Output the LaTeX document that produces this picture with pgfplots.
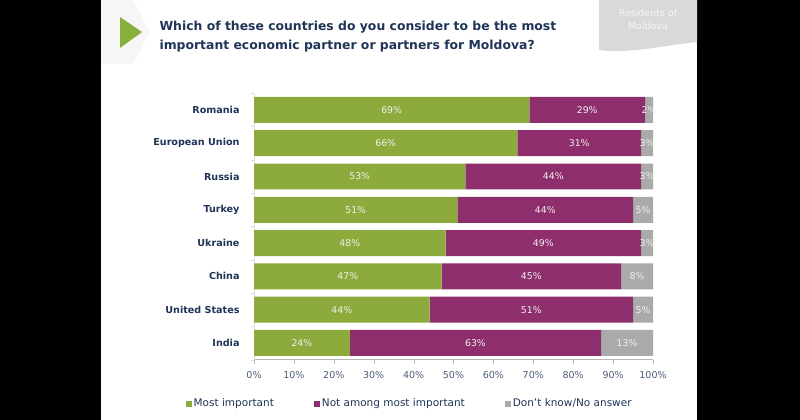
\documentclass[border=0pt]{standalone}
\usepackage{pgfplots}
\pgfplotsset{compat=1.18}
\usepackage{pgfplotstable}
\usepackage{fontspec}
\setmainfont{DejaVu Sans}
\definecolor{cgreen}{RGB}{141,170,60}
\definecolor{cpurple}{RGB}{142,46,108}
\definecolor{cgray}{RGB}{170,170,170}
\definecolor{navy}{RGB}{31,52,87}
\definecolor{tri}{RGB}{135,176,58}
\pgfplotstableread{
pos most notamong dk
7 69 29 2
6 66 31 3
5 53 44 3
4 51 44 5
3 48 49 3
2 47 45 8
1 44 51 5
0 24 63 13
}\data
\pgfplotstablecreatecol[create col/expr={\thisrow{most}/2}]{cmost}\data
\pgfplotstablecreatecol[create col/expr={\thisrow{most}+\thisrow{notamong}/2}]{cnot}\data
\pgfplotstablecreatecol[create col/expr={\thisrow{most}+\thisrow{notamong}+\thisrow{dk}/2}]{cdk}\data
\pgfplotsset{common/.style={
  at={(254bp,60.4bp)}, anchor=south west, scale only axis,
  width=399bp, height=266.3bp,
  xmin=0, xmax=100, ymin=-0.5, ymax=7.5, clip=false,
  /pgf/number format/assume math mode=true}}
\begin{document}
\begin{tikzpicture}
\begin{scope}[x=1bp,y=1bp]
\fill[black] (0,0) rectangle (800,420);
\fill[white] (101,0) rectangle (697,420);
\fill[gray!7] (101,420) -- (133,420) -- (150,388) -- (133,356) -- (101,356) -- cycle;
\fill[tri] (120,403) -- (142,388) -- (120,372) -- cycle;
\fill[gray!30] (599,420) -- (599,370) .. controls (630,366) and (660,374) .. (697,378) -- (697,420) -- cycle;
\node[align=center, text=white!92!gray, font=\fontsize{9.5bp}{13bp}\selectfont] at (648,401) {Residents of\\Moldova};
\node[anchor=north west, align=left, text=navy, font=\bfseries\fontsize{12.4bp}{19bp}\selectfont] at (156,402) {Which of these countries do you consider to be the most\\important economic partner or partners for Moldova?};
\end{scope}
\begin{axis}[
  common,
  xbar stacked, bar width=0.78,
  axis x line=bottom, axis y line=left,
  x axis line style={-, draw=gray!55},
  y axis line style={-, draw=gray!25},
  tick align=outside,
  xtick={0,10,...,100},
  xticklabel={\pgfmathprintnumber{\tick}\%},
  xtick style={draw=gray!55},
  major tick length=4bp,
  ytick={0,...,7},
  yticklabels={India,United States,China,Ukraine,Turkey,Russia,European Union,Romania},
  major y tick style={draw=none},
  minor ytick={-0.5,0.5,...,7.5},
  minor y tick style={draw=gray!30},
  minor tick length=3bp,
  xticklabel style={font=\fontsize{9.5bp}{11bp}\selectfont, text=navy!80, yshift=-4bp},
  yticklabel style={font=\bfseries\fontsize{9.6bp}{11bp}\selectfont, text=navy, xshift=-7bp},
  legend style={at={(axis description cs:0.39,-0.165)}, anchor=center, draw=none, fill=none,
    legend columns=-1, font=\fontsize{10.5bp}{12bp}\selectfont, text=navy,
    /tikz/every even column/.append style={column sep=38bp}},
  legend image code/.code={\fill[#1] (0bp,-3bp) rectangle (6bp,3bp);},
]
\addplot[fill=cgreen, draw=none] table[x=most, y=pos]{\data};
\addplot[fill=cpurple, draw=none] table[x=notamong, y=pos]{\data};
\addplot[fill=cgray, draw=none] table[x=dk, y=pos]{\data};
\legend{Most important, Not among most important, Don't know/No answer}
\end{axis}
\begin{axis}[
  common, hide axis,
  point meta=explicit,
  nodes near coords={\pgfmathprintnumber{\pgfplotspointmeta}\%},
  every node near coord/.append style={font=\fontsize{9.3bp}{10bp}\selectfont, text=white!94!black, anchor=center},
]
\addplot[only marks, mark=none] table[x=cmost, y=pos, meta=most]{\data};
\addplot[only marks, mark=none] table[x=cnot, y=pos, meta=notamong]{\data};
\addplot[only marks, mark=none] table[x=cdk, y=pos, meta=dk]{\data};
\end{axis}
\pgfresetboundingbox
\path (0,0) rectangle (800bp,420bp);
\end{tikzpicture}
\end{document}
